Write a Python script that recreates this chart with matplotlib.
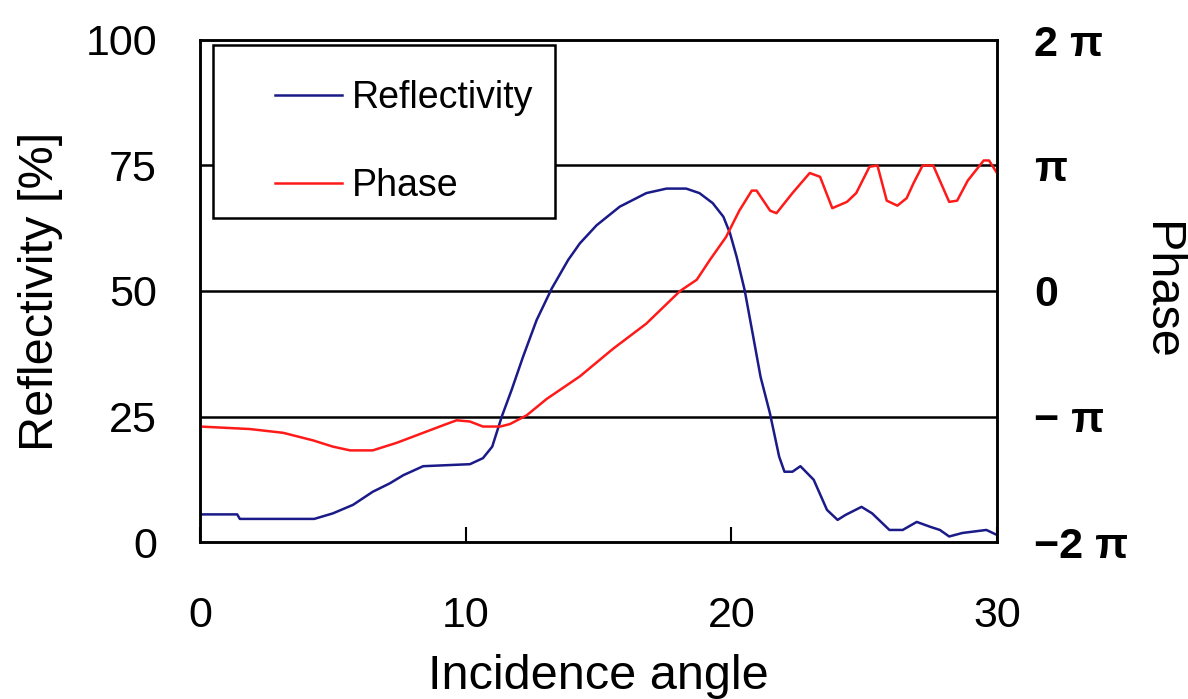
import matplotlib
matplotlib.use("Agg")
import matplotlib.pyplot as plt
from matplotlib.patches import Rectangle

plt.rcParams['font.family'] = ['Liberation Sans', 'DejaVu Sans']

# Reflectividade (curva azul)
ang_r = [0, 1.4, 1.5, 4.3, 5.0, 5.76, 6.5, 7.15, 7.65, 8.4, 10.16, 10.65, 11.0, 11.36, 11.73,
         12.16, 12.67, 13.24, 13.86, 14.3, 14.93, 15.8, 16.8, 17.56, 18.3, 18.8, 19.3, 19.7,
         19.95, 20.2, 20.5, 20.8, 21.1, 21.45, 21.8, 22.0, 22.3, 22.6, 23.1, 23.6, 24.0, 24.3,
         24.9, 25.3, 25.95, 26.45, 26.98, 27.5, 27.85, 28.2, 28.7, 29.6, 30.0]
refl = [5.5, 5.5, 4.6, 4.6, 5.7, 7.4, 10.0, 11.7, 13.3, 15.1, 15.5, 16.7, 19.0, 25.0, 30.3,
        36.9, 44.2, 50.5, 56.2, 59.5, 63.1, 66.8, 69.5, 70.4, 70.4, 69.5, 67.5, 64.8,
        61.5, 56.8, 50.2, 41.6, 32.9, 25.7, 17.0, 14.0, 14.0, 15.1, 12.4, 6.4, 4.4, 5.4,
        7.0, 5.7, 2.4, 2.4, 4.0, 3.0, 2.4, 1.1, 1.8, 2.4, 1.4]

# Fase (curva vermelha), em unidades de pi
ang_p = [0, 1.88, 3.13, 4.25, 5.0, 5.65, 6.5, 7.4, 8.4, 9.15, 9.66, 10.16, 10.65, 11.3, 11.67,
         12.3, 13.05, 14.3, 15.55, 16.8, 18.07, 18.7, 19.2, 19.8, 20.3, 20.77, 20.95, 21.46,
         21.7, 22.3, 22.95, 23.34, 23.8, 24.35, 24.7, 25.2, 25.5, 25.85, 26.25, 26.6, 26.86,
         27.2, 27.6, 28.2, 28.5, 28.9, 29.5, 29.7, 30.0]
fase = [-1.08, -1.10, -1.13, -1.19, -1.24, -1.27, -1.27, -1.21, -1.13, -1.07, -1.03, -1.04,
        -1.08, -1.08, -1.06, -0.99, -0.86, -0.68, -0.46, -0.26, 0.0, 0.09, 0.25, 0.43, 0.64,
        0.80, 0.80, 0.64, 0.62, 0.78, 0.94, 0.91, 0.66, 0.71, 0.78, 0.99, 1.00, 0.72, 0.68,
        0.74, 0.86, 1.00, 1.00, 0.71, 0.72, 0.88, 1.04, 1.04, 0.94]

fase_ticks = [-2, -1, 0, 1, 2]
fase_labels = ['\u22122 \u03c0', '\u2212 \u03c0', '0', '\u03c0', '2 \u03c0']

fig = plt.figure(figsize=(11.88, 6.99), dpi=100)
ax = fig.add_axes([200/1188, 1 - 542/699, 797/1188, 502/699])
ax2 = ax.twinx()

l1, = ax.plot(ang_r, refl, color='#1a1a88', lw=1.8, label='Reflectivity')
l2, = ax2.plot(ang_p, fase, color='#ff1a1a', lw=1.8, label='Phase')

ax.set_xlim(0, 30)
ax.set_ylim(0, 100)
ax2.set_ylim(-2, 2)

for y in [25, 50, 75]:
    ax.axhline(y, color='black', lw=1.8, zorder=0.5)

ax.set_xticks([0, 10, 20, 30])
ax.set_yticks([0, 25, 50, 75, 100])
ax.tick_params(axis='x', direction='in', length=11, width=1.5, pad=39, labelsize=31)
ax.tick_params(axis='y', length=0, pad=31, labelsize=31)
ax2.set_yticks(fase_ticks)
ax2.set_yticklabels(fase_labels, fontweight='bold')
ax2.tick_params(axis='y', length=0, pad=27, labelsize=31)

for a in (ax, ax2):
    for s in a.spines.values():
        s.set_linewidth(1.8)

ax.set_xlabel('Incidence angle', fontsize=35, labelpad=13)
ax.set_ylabel('Reflectivity [%]', fontsize=35, labelpad=16)
ax2.set_ylabel('Phase', fontsize=35, rotation=-90, ha='center', va='center')
ax2.yaxis.set_label_coords((1161 - 200) / 797, 0.5)

# caixa da legenda (estilo Excel, com margem esquerda maior)
ax2.add_patch(Rectangle((13/797, 324/502), 342/797, 173/502, transform=ax2.transAxes,
                        facecolor='white', edgecolor='black', lw=1.8, zorder=5))
leg = ax2.legend(handles=[l1, l2], loc='upper left', bbox_to_anchor=(75/797, 462/502),
                 fontsize=27, frameon=False, handlelength=1.8, handletextpad=0.25,
                 labelspacing=1.4, borderpad=0, borderaxespad=0)
leg.set_zorder(6)

fig.savefig('out.png', dpi=100)
